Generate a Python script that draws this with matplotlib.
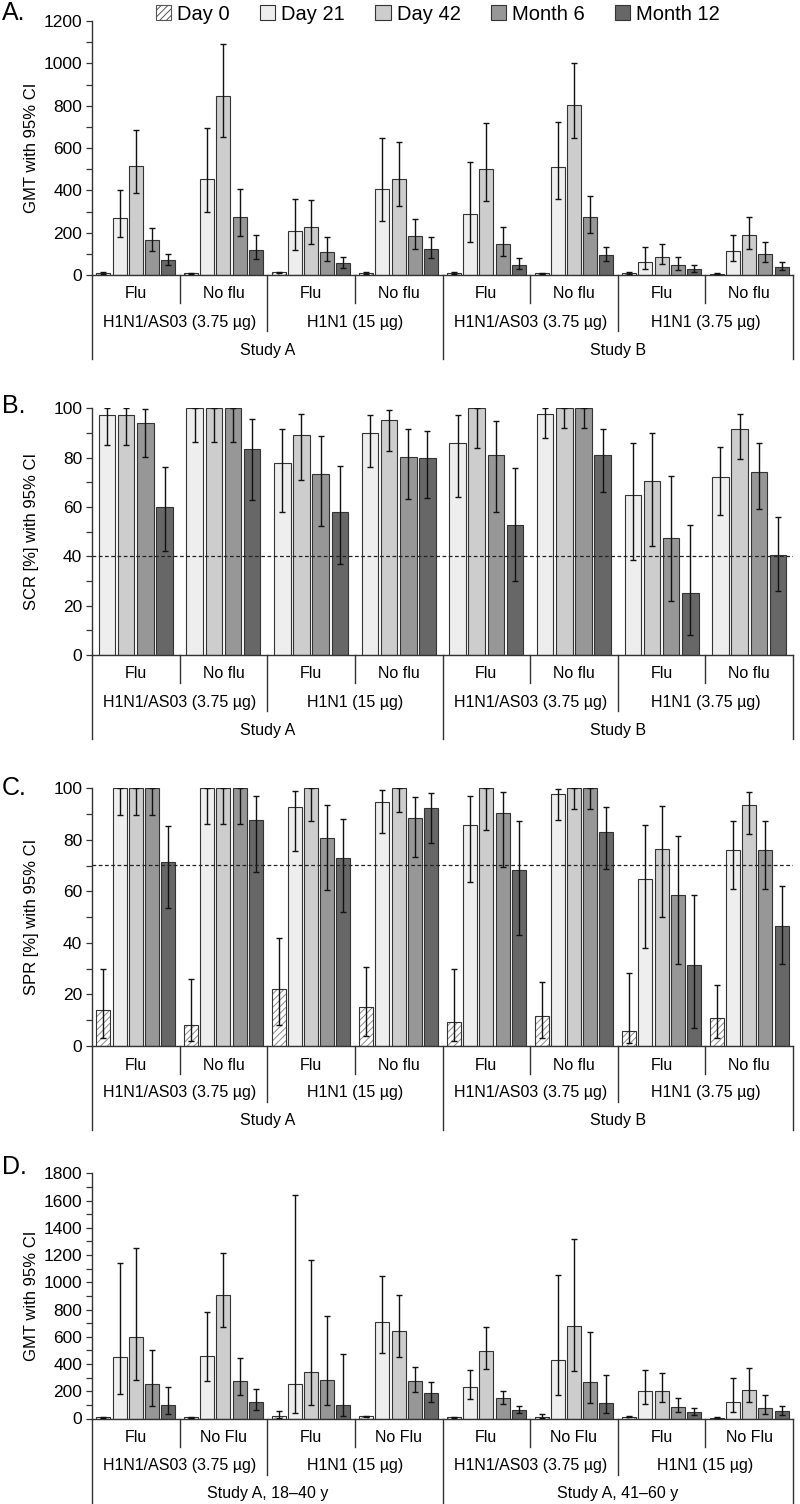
import numpy as np
import matplotlib
matplotlib.use('Agg')
import matplotlib.pyplot as plt
import matplotlib.patches as mpatches

plt.rcParams['font.family'] = ['Liberation Sans', 'DejaVu Sans']
plt.rcParams['hatch.linewidth'] = 0.7

W, H = 800, 1504

# series / categories
series = ['Day 0', 'Day 21', 'Day 42', 'Month 6', 'Month 12']
fills = ['white', '#eeeeee', '#cdcdcd', '#979797', '#676767']

groups_abc = ['Flu', 'No flu'] * 4
vaccines_abc = ['H1N1/AS03 (3.75 µg)', 'H1N1 (15 µg)', 'H1N1/AS03 (3.75 µg)', 'H1N1 (3.75 µg)']
studies_abc = ['Study A', 'Study B']

groups_d = ['Flu', 'No Flu'] * 4
vaccines_d = ['H1N1/AS03 (3.75 µg)', 'H1N1 (15 µg)'] * 2
studies_d = ['Study A, 18\u201340 y', 'Study A, 41\u201360 y']

# A: GMT
a_val = [[10, 270, 516, 165, 70], [8, 453, 845, 275, 120], [12, 210, 225, 110, 55], [10, 408, 453, 182, 122],
         [10, 290, 500, 145, 48], [8, 512, 803, 275, 95], [10, 63, 83, 45, 27], [7, 113, 187, 100, 40]]
a_lo = [[7, 180, 389, 115, 45], [6, 298, 653, 185, 75], [9, 120, 145, 65, 32], [7, 255, 325, 125, 80],
        [7, 155, 348, 90, 28], [6, 360, 647, 200, 65], [7, 30, 50, 22, 12], [5, 68, 125, 60, 25]]
a_hi = [[14, 402, 685, 222, 100], [11, 693, 1091, 405, 190], [16, 360, 352, 178, 85], [14, 646, 630, 265, 178],
        [14, 532, 720, 228, 78], [11, 723, 1000, 372, 132], [14, 132, 148, 85, 48], [10, 187, 272, 155, 63]]

# B: SCR (no day 0)
b_val = [[None, 97.3, 97.3, 94.2, 60.1], [None, 100, 100, 100, 83.6], [None, 78, 89, 73.4, 58], [None, 89.9, 95.3, 80.3, 79.7],
         [None, 85.9, 100, 81.2, 52.8], [None, 97.8, 100, 100, 81.2], [None, 65, 70.7, 47.3, 25], [None, 72, 91.5, 74.2, 40.4]]
b_lo = [[None, 85.1, 85.1, 80.4, 42.3], [None, 86.5, 86.5, 86.5, 62.8], [None, 57.8, 70.9, 52.4, 36.9], [None, 76.1, 82.8, 63.1, 63.5],
        [None, 63.9, 84, 58.1, 30], [None, 87.8, 91.9, 91.9, 66], [None, 38.5, 44, 22, 8], [None, 56.7, 79.3, 59, 26]]
b_hi = [[None, 100, 100, 99.6, 76.3], [None, 100, 100, 100, 95.5], [None, 91.6, 97.7, 88.8, 76.7], [None, 97.3, 99.5, 91.7, 90.9],
        [None, 97.1, 100, 94.9, 75.9], [None, 100, 100, 100, 91.6], [None, 85.9, 89.9, 72.6, 52.6], [None, 84.2, 97.7, 85.9, 55.8]]

# C: SPR
c_val = [[14, 100, 100, 100, 71.5], [8, 100, 100, 100, 87.6], [22, 92.6, 100, 80.7, 73.1], [15, 94.8, 100, 88.6, 92.2],
         [9.5, 85.6, 100, 90.3, 68.3], [11.5, 97.7, 100, 100, 83.2], [6, 64.7, 76.4, 58.7, 31.4], [11, 76.2, 93.5, 76.2, 46.7]]
c_lo = [[3, 89.8, 89.6, 89.6, 53.7], [2, 86.1, 86.1, 86.1, 67.6], [8, 75.7, 87.2, 60.5, 52.1], [4, 82.7, 90.9, 73.2, 78.9],
        [2, 63.6, 83.8, 69.6, 43], [3, 87.7, 91.8, 91.8, 68.6], [1, 38, 49.9, 32, 7], [3, 61, 82.3, 61, 32]]
c_hi = [[30, 100, 100, 100, 85.5], [26, 100, 100, 100, 97.2], [42, 99, 100, 93.4, 88.2], [30.5, 99.2, 100, 96.8, 98.3],
        [30, 97, 100, 98.7, 87.3], [25, 99.7, 100, 100, 92.9], [28.5, 85.8, 93.2, 81.6, 58.6], [23.5, 87.5, 98.7, 87.5, 62.1]]

# D: GMT by age
d_val = [[10, 455, 595, 250, 97], [8, 460, 905, 275, 120], [15, 255, 340, 280, 98], [15, 710, 640, 275, 185],
         [10, 228, 492, 148, 62], [10, 428, 680, 270, 115], [12, 200, 205, 88, 48], [6, 118, 210, 75, 52]]
d_lo = [[7, 180, 280, 90, 35], [6, 272, 675, 170, 65], [3, 40, 100, 100, 18], [10, 483, 455, 198, 120],
        [7, 143, 362, 105, 40], [3, 172, 348, 115, 40], [8, 110, 120, 50, 28], [4, 45, 120, 30, 25]]
d_hi = [[14, 1140, 1255, 500, 232], [11, 780, 1215, 445, 218], [55, 1640, 1160, 750, 475], [22, 1045, 905, 380, 268],
        [14, 358, 672, 205, 93], [30, 1055, 1320, 632, 318], [16, 355, 335, 150, 78], [8, 300, 370, 170, 95]]


fig = plt.figure(figsize=(W / 100, H / 100), dpi=100)


def add_axes(top_px, bottom_px):
    return fig.add_axes([92 / W, 1 - bottom_px / H, 701 / W, (bottom_px - top_px) / H])


def draw(ax, vals, lo, hi, ymax, major, minor, ylabel, ref=None, width=0.16, step=0.185):
    present = [k for k in range(5) if vals[0][k] is not None]
    m = len(present)
    n = len(vals)
    for j, k in enumerate(present):
        x = np.arange(n) + 0.5 + (j - (m - 1) / 2) * step
        v = np.array([r[k] for r in vals], float)
        l = np.array([r[k] for r in lo], float)
        h = np.array([r[k] for r in hi], float)
        if k == 0:
            ax.bar(x, v, width, color='white', edgecolor='#8c8c8c', hatch='/////', lw=0, zorder=2)
            ax.bar(x, v, width, fill=False, edgecolor='#333333', lw=0.8, zorder=3)
        else:
            ax.bar(x, v, width, color=fills[k], edgecolor='#333333', lw=0.8, zorder=2)
        ax.errorbar(x, v, yerr=[v - l, h - v], fmt='none', ecolor='#111111',
                    elinewidth=1, capsize=2.5, capthick=1, zorder=4)
    if ref is not None:
        ax.axhline(ref, color='#222222', lw=0.9, ls=(0, (3, 2)), zorder=5)
    ax.set_xlim(0, n)
    ax.set_ylim(0, ymax)
    ax.set_yticks(np.arange(0, ymax + 1, major))
    ax.set_yticks(np.arange(0, ymax + 1, minor), minor=True)
    ax.set_xticks([])
    for s in ('top', 'right'):
        ax.spines[s].set_visible(False)
    for s in ('left', 'bottom'):
        ax.spines[s].set_color('#333333')
        ax.spines[s].set_linewidth(1)
    ax.tick_params(axis='y', which='both', length=4, width=0.9, color='#333333',
                   labelsize=12.5, pad=3)
    ax.set_ylabel(ylabel, fontsize=12)
    ax.yaxis.set_label_coords(-0.075, 0.5)


def hierarchy(ax, groups, vaccines, studies, ax_h_px):
    def f(p):
        return -p / ax_h_px
    tr = ax.get_xaxis_transform()
    for i, g in enumerate(groups):
        ax.text(i + 0.5, f(19), g, transform=tr, ha='center', va='center', fontsize=11.5)
    for i, v in enumerate(vaccines):
        ax.text(2 * i + 1, f(47), v, transform=tr, ha='center', va='center', fontsize=11.5)
    for i, s in enumerate(studies):
        ax.text(4 * i + 2, f(75), s, transform=tr, ha='center', va='center', fontsize=11.5)
    for x in (1, 3, 5, 7):
        ax.plot([x, x], [0, f(28)], transform=tr, color='#333333', lw=1, clip_on=False)
    for x in (2, 6):
        ax.plot([x, x], [0, f(56)], transform=tr, color='#333333', lw=1, clip_on=False)
    for x in (0, 4, 8):
        ax.plot([x, x], [0, f(84)], transform=tr, color='#333333', lw=1, clip_on=False)


axA = add_axes(21, 275)
draw(axA, a_val, a_lo, a_hi, 1200, 200, 100, 'GMT with 95% CI')
hierarchy(axA, groups_abc, vaccines_abc, studies_abc, 254)

axB = add_axes(408.3, 655)
draw(axB, b_val, b_lo, b_hi, 100, 20, 10, 'SCR [%] with 95% CI', ref=40, width=0.188, step=0.219)
hierarchy(axB, groups_abc, vaccines_abc, studies_abc, 246.7)

axC = add_axes(788.3, 1046)
draw(axC, c_val, c_lo, c_hi, 100, 20, 10, 'SPR [%] with 95% CI', ref=70.3)
hierarchy(axC, groups_abc, vaccines_abc, studies_abc, 257.7)

axD = add_axes(1173.3, 1418.5)
draw(axD, d_val, d_lo, d_hi, 1800, 200, 100, 'GMT with 95% CI')
hierarchy(axD, groups_d, vaccines_d, studies_d, 245.2)

for lab, ypx in (('A.', 13), ('B.', 406), ('C.', 788), ('D.', 1167)):
    fig.text(2 / W, 1 - ypx / H, lab, fontsize=18, ha='left', va='center')

handles = [mpatches.Patch(facecolor='white', edgecolor='#555555', hatch='/////', lw=0.8)]
handles += [mpatches.Patch(facecolor=c, edgecolor='#333333', lw=0.8) for c in fills[1:]]
fig.legend(handles, series, loc='center', bbox_to_anchor=(438 / W, 1 - 14 / H), ncol=5,
           frameon=False, fontsize=14.5, handlelength=0.75, handleheight=0.75,
           handletextpad=0.3, columnspacing=1.5, borderaxespad=0, borderpad=0)

fig.savefig('out.png', dpi=100)
